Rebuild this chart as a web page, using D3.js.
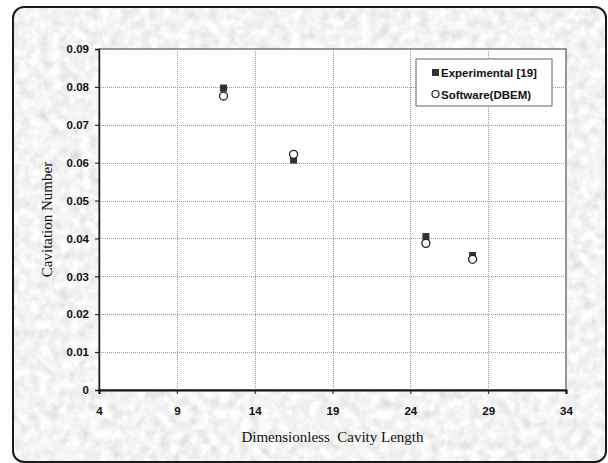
<!DOCTYPE html>
<html>
<head>
<meta charset="utf-8">
<script src="https://cdn.jsdelivr.net/npm/d3@7"></script>
<style>
  html, body { margin: 0; padding: 0; background: #fff; }
  svg { display: block; }
</style>
</head>
<body>
<svg id="chart" width="608" height="463"></svg>
<script>
// Cavity length (dimensionless) vs cavitation number
const cavityLength = [12, 16.5, 25, 28];
const experimental = [0.0797, 0.0607, 0.0405, 0.0355];
const software = [0.0776, 0.0622, 0.0387, 0.0345];
const xTicks = [4, 9, 14, 19, 24, 29, 34];
const yTicks = [0, 0.01, 0.02, 0.03, 0.04, 0.05, 0.06, 0.07, 0.08, 0.09];
const seriesNames = ["Experimental [19]", "Software(DBEM)"];

const plot = { left: 99, top: 49, right: 566, bottom: 390 };

const svg = d3.select("#chart");

// Mottled grey stone texture for the chart frame
const defs = svg.append("defs");
const f = defs.append("filter").attr("id", "stone")
  .attr("x", 0).attr("y", 0).attr("width", "100%").attr("height", "100%");
f.append("feTurbulence").attr("type", "fractalNoise")
  .attr("baseFrequency", 0.1).attr("numOctaves", 4).attr("seed", 7).attr("result", "n");
f.append("feColorMatrix").attr("in", "n").attr("type", "matrix")
  .attr("values",
    "0.3 0.3 0 0 0.6  0.3 0.3 0 0 0.6  0.3 0.3 0 0 0.6  0 0 0 0 1")
  .attr("result", "g");
f.append("feComposite").attr("in", "g").attr("in2", "SourceGraphic").attr("operator", "in");

svg.append("rect").attr("x", 13).attr("y", 7).attr("width", 593).attr("height", 455)
  .attr("rx", 11).attr("fill", "#d9d9d9").attr("filter", "url(#stone)");
svg.append("rect").attr("x", 13).attr("y", 7).attr("width", 593).attr("height", 455)
  .attr("rx", 11).attr("fill", "none").attr("stroke", "#1a1a1a").attr("stroke-width", 2);

const x = d3.scaleLinear().domain([4, 34]).range([plot.left, plot.right]);
const y = d3.scaleLinear().domain([0, 0.09]).range([plot.bottom, plot.top]);

// plot area
svg.append("rect").attr("x", plot.left).attr("y", plot.top)
  .attr("width", plot.right - plot.left).attr("height", plot.bottom - plot.top)
  .attr("fill", "#fff").attr("stroke", "#555").attr("stroke-width", 1.2);

// dotted gridlines
const grid = svg.append("g").attr("stroke", "#999").attr("stroke-width", 1)
  .attr("stroke-dasharray", "1,1");
grid.selectAll("line.h").data(yTicks.filter(v => v > 0 && v < 0.09)).join("line")
  .attr("x1", plot.left).attr("x2", plot.right)
  .attr("y1", d => Math.round(y(d)) + 0.5).attr("y2", d => Math.round(y(d)) + 0.5);
grid.selectAll("line.v").data(xTicks.filter(v => v > 4 && v < 34)).join("line")
  .attr("y1", plot.top).attr("y2", plot.bottom)
  .attr("x1", d => Math.round(x(d)) + 0.5).attr("x2", d => Math.round(x(d)) + 0.5);

// axes
const yAxis = svg.append("g").attr("transform", `translate(${plot.left},0)`)
  .call(d3.axisLeft(y).tickValues(yTicks).tickSize(4).tickPadding(6)
    .tickFormat(d => d === 0 ? "0" : d3.format(".2f")(d)));
const xAxis = svg.append("g").attr("transform", `translate(0,${plot.bottom})`)
  .call(d3.axisBottom(x).tickValues(xTicks).tickSize(4).tickPadding(13));
[yAxis, xAxis].forEach(a => {
  a.selectAll("text").attr("font-family", "Liberation Sans, Arial, sans-serif")
    .attr("font-size", 11.5).attr("font-weight", "bold").attr("fill", "#111");
  a.selectAll("line").attr("stroke", "#111");
});
yAxis.select(".domain").attr("stroke", "#222").attr("stroke-width", 1.5);
xAxis.select(".domain").attr("stroke", "#111").attr("stroke-width", 2.2);

// axis titles
svg.append("text").attr("x", (plot.left + plot.right) / 2).attr("y", 442)
  .attr("text-anchor", "middle")
  .attr("font-family", "Liberation Serif, Times New Roman, serif")
  .attr("font-size", 15).attr("fill", "#111").attr("xml:space", "preserve")
  .text("Dimensionless  Cavity Length");
svg.append("text").attr("transform", `translate(52,${(plot.top + plot.bottom) / 2}) rotate(-90)`)
  .attr("text-anchor", "middle")
  .attr("font-family", "Liberation Serif, Times New Roman, serif")
  .attr("font-size", 15).attr("fill", "#111")
  .text("Cavitation Number");

// data markers
const marks = svg.append("g");
marks.selectAll("rect.exp").data(cavityLength).join("rect")
  .attr("x", (d) => x(d) - 3.5).attr("y", (d, i) => y(experimental[i]) - 3.5)
  .attr("width", 7).attr("height", 7).attr("fill", "#333");
marks.selectAll("circle.sw").data(cavityLength).join("circle")
  .attr("cx", d => x(d)).attr("cy", (d, i) => y(software[i]))
  .attr("r", 4).attr("fill", "#fff").attr("stroke", "#222").attr("stroke-width", 1.3);

// legend
const lg = svg.append("g");
lg.append("rect").attr("x", 416).attr("y", 59).attr("width", 136).attr("height", 47)
  .attr("fill", "#fff").attr("stroke", "#666").attr("stroke-width", 1);
lg.append("rect").attr("x", 432).attr("y", 69).attr("width", 7).attr("height", 7).attr("fill", "#333");
lg.append("circle").attr("cx", 435.5).attr("cy", 94).attr("r", 3.5)
  .attr("fill", "#fff").attr("stroke", "#222").attr("stroke-width", 1.2);
lg.selectAll("text").data(seriesNames).join("text")
  .attr("x", 441).attr("y", (d, i) => 77 + i * 22)
  .attr("font-family", "Liberation Sans, Arial, sans-serif")
  .attr("font-size", 11.5).attr("font-weight", "bold").attr("fill", "#111")
  .text(d => d);
</script>
</body>
</html>
